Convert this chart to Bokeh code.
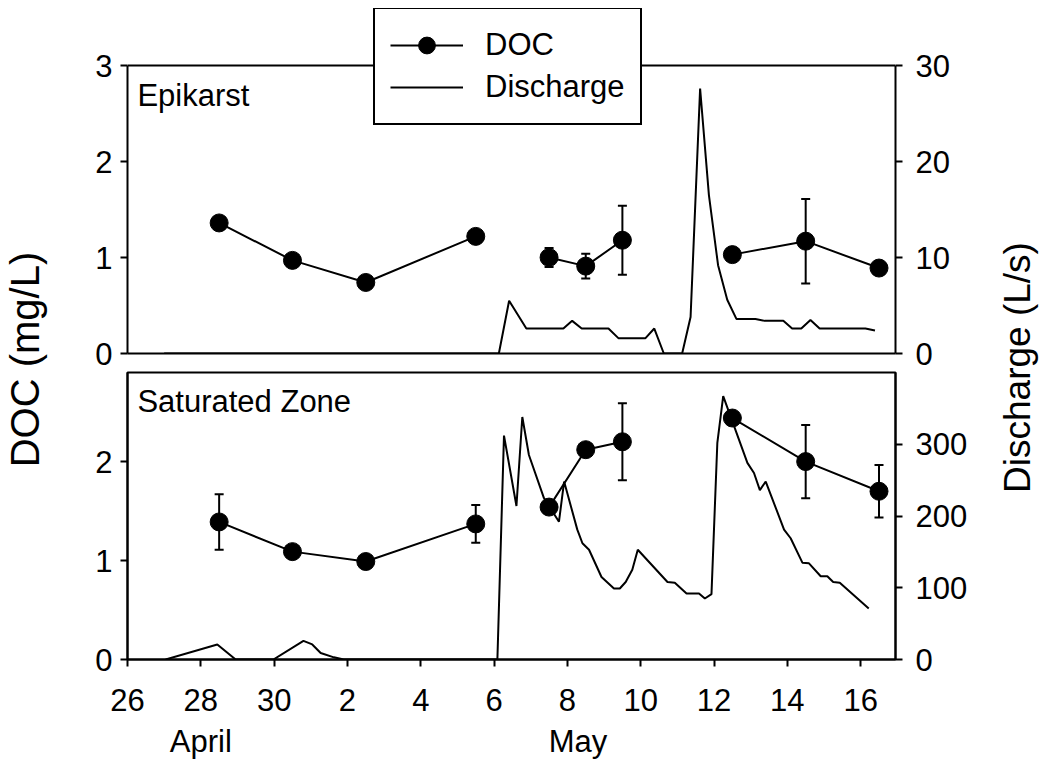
from math import pi
import numpy as np
from bokeh.plotting import figure
from bokeh.models import (Range1d, LinearAxis, FixedTicker, Legend, LegendItem, Label,
                          Whisker, TeeHead, ColumnDataSource, Span)
from bokeh.layouts import row, column
from bokeh.embed import file_html
from bokeh.resources import INLINE

FONT = "Liberation Sans"

# day numbers: April 26 = 26 ... April 30 = 30, May 1 = 31, May 2 = 32 ...
doc_days = [28.5, 30.5, 32.5, 35.5, 37.5, 38.5, 39.5, 42.5, 44.5, 46.5]
doc_group = [0, 0, 0, 0, 1, 1, 1, 2, 2, 2]
epi_doc = [1.36, 0.97, 0.74, 1.22, 1.00, 0.91, 1.18, 1.03, 1.17, 0.89]
epi_err = [0, 0, 0, 0, 0.10, 0.13, 0.36, 0, 0.44, 0]
sat_doc = [1.39, 1.09, 0.99, 1.37, 1.54, 2.12, 2.20, 2.44, 2.00, 1.70]
sat_err = [0.28, 0, 0, 0.19, 0, 0, 0.39, 0, 0.37, 0.265]

epi_q_days = [27.0, 36.13, 36.41, 36.88, 37.89, 38.13, 38.39, 39.12, 39.39, 40.13,
              40.37, 40.63, 41.13, 41.36, 41.62, 41.86, 42.11, 42.36, 42.61, 43.13,
              43.38, 43.89, 44.13, 44.38, 44.63, 44.88, 46.13, 46.39]
epi_q = [0, 0, 5.5, 2.6, 2.6, 3.4, 2.6, 2.6, 1.6, 1.6,
         2.6, 0, 0, 3.8, 27.6, 16.5, 9.2, 5.6, 3.6, 3.6,
         3.4, 3.4, 2.6, 2.6, 3.5, 2.6, 2.6, 2.4]

sat_q_days = [27.04, 28.45, 28.95, 29.98, 30.8, 31.04, 31.27, 31.63, 31.9, 36.09,
              36.27, 36.61, 36.77, 36.95, 37.36, 37.77, 37.91, 38.27, 38.41, 38.59,
              38.93, 39.27, 39.43, 39.59, 39.77, 39.92, 40.73, 40.93, 41.25, 41.59,
              41.75, 41.93, 42.09, 42.25, 42.91, 43.09, 43.25, 43.41, 43.91, 44.09,
              44.41, 44.59, 44.91, 45.09, 45.25, 45.43, 46.22]
sat_q = [0, 21, 0, 0, 26, 21, 9, 3, 0, 0,
         312, 214, 338, 285, 225, 192, 248, 181, 162, 153,
         115, 99, 99, 108, 125, 153, 108, 107, 92, 92,
         85, 91, 302, 367, 274, 260, 236, 248, 181, 169,
         135, 134, 116, 116, 108, 107, 71]

x_ticks = [26, 28, 30, 32, 34, 36, 38, 40, 42, 44, 46]
x_tick_labels = ["26", "28", "30", "2", "4", "6", "8", "10", "12", "14", "16"]
month_ticks = [28.0, 38.29]
month_labels = ["April", "May"]
epi_doc_ticks = [0, 1, 2, 3]
epi_q_ticks = [0, 10, 20, 30]
sat_doc_ticks = [0, 1, 2]
sat_q_ticks = [0, 100, 200, 300]

X0, X1 = 26, 46.95
EPI_DOC_MAX, EPI_Q_MAX = 3, 30
SAT_DOC_MAX, SAT_Q_MAX = 2.9, 400

# layout (pixels)
MAIN_W = 907
BL, BR = 59, 80
TOP_H, TOP_BT, TOP_BB = 371, 8, 18
TOP_BOX = 288           # visible height of the Epikarst panel box
BOT_H, BOT_BT, BOT_BB = 396, 1, 108


def broken(xs, ys, groups):
    ox, oy = [], []
    for i, (x, y, g) in enumerate(zip(xs, ys, groups)):
        if i > 0 and g != groups[i - 1]:
            ox.append(np.nan)
            oy.append(np.nan)
        ox.append(x)
        oy.append(y)
    return ox, oy


def style_axis(ax, standoff):
    ax.axis_line_width = 2
    ax.axis_line_color = "black"
    ax.major_tick_line_width = 2
    ax.major_tick_line_color = "black"
    ax.major_tick_out = 7
    ax.major_tick_in = 0
    ax.minor_tick_line_color = None
    ax.major_label_text_font = FONT
    ax.major_label_text_font_size = "31px"
    ax.major_label_text_color = "black"
    ax.major_label_standoff = standoff


def draw_data(p, doc, err, qd, q, title, title_y):
    qline = p.line(qd, q, y_range_name="q", line_color="black", line_width=2)
    lx, ly = broken(doc_days, doc, doc_group)
    dline = p.line(lx, ly, line_color="black", line_width=2)
    dots = p.scatter(doc_days, doc, size=18, marker="circle", fill_color="black", line_color="black")
    ex = [d for d, e in zip(doc_days, err) if e > 0]
    lo = [v - e for v, e in zip(doc, err) if e > 0]
    hi = [v + e for v, e in zip(doc, err) if e > 0]
    src = ColumnDataSource(dict(x=ex, lower=lo, upper=hi))
    w = Whisker(source=src, base="x", lower="lower", upper="upper", dimension="height",
                line_width=2, line_color="black",
                upper_head=TeeHead(size=9, line_width=2, line_color="black"),
                lower_head=TeeHead(size=9, line_width=2, line_color="black"))
    p.add_layout(w)
    p.add_layout(Label(x=26.27, y=title_y, text=title, text_font=FONT, text_font_size="31px",
                       text_align="left", text_baseline="alphabetic", text_color="black"))
    return dline, dots, qline


# ---------------- Epikarst (top) ----------------
top_frame_h = TOP_H - TOP_BT - TOP_BB
scale = top_frame_h / TOP_BOX
top = figure(width=MAIN_W, height=TOP_H, x_range=Range1d(X0, X1),
             y_range=Range1d(0, EPI_DOC_MAX * scale),
             min_border_left=BL, min_border_right=BR, min_border_top=TOP_BT, min_border_bottom=TOP_BB,
             toolbar_location=None, output_backend="svg", x_axis_location="below", y_axis_location="left")
top.grid.visible = False
top.outline_line_color = None
top.extra_y_ranges = {"q": Range1d(0, EPI_Q_MAX * scale)}
axr = LinearAxis(y_range_name="q", ticker=FixedTicker(ticks=epi_q_ticks), bounds=(0, EPI_Q_MAX))
top.add_layout(axr, "right")
top.yaxis[0].ticker = FixedTicker(ticks=epi_doc_ticks)
top.yaxis[0].bounds = (0, EPI_DOC_MAX)
style_axis(top.yaxis[0], 8)
style_axis(axr, 13)
xa = top.xaxis[0]
style_axis(xa, 0)
xa.ticker = FixedTicker(ticks=[])
xa.major_tick_out = 0
top.add_layout(Span(location=EPI_DOC_MAX, dimension="width", line_color="black", line_width=2))
dl, dd, ql = draw_data(top, epi_doc, epi_err, epi_q_days, epi_q, "Epikarst", 2.684)

legend = Legend(items=[LegendItem(label="DOC", renderers=[dl, dd]),
                       LegendItem(label="Discharge", renderers=[ql])],
                location=(246, 228), margin=0, padding=15, spacing=0,
                glyph_width=73, glyph_height=42, label_height=42, label_standoff=22,
                label_text_font=FONT, label_text_font_size="31px", label_text_color="black",
                border_line_color="black", border_line_width=2, border_line_alpha=1.0,
                background_fill_color="white", background_fill_alpha=1.0)
top.add_layout(legend)

# ---------------- Saturated Zone (bottom) ----------------
bot = figure(width=MAIN_W, height=BOT_H, x_range=Range1d(X0, X1), y_range=Range1d(0, SAT_DOC_MAX),
             min_border_left=BL, min_border_right=BR, min_border_top=BOT_BT, min_border_bottom=BOT_BB,
             toolbar_location=None, output_backend="svg", x_axis_location="below", y_axis_location="left")
bot.grid.visible = False
bot.outline_line_color = "black"
bot.outline_line_width = 2
bot.extra_y_ranges = {"q": Range1d(0, SAT_Q_MAX)}
axr2 = LinearAxis(y_range_name="q", ticker=FixedTicker(ticks=sat_q_ticks))
bot.add_layout(axr2, "right")
bot.yaxis[0].ticker = FixedTicker(ticks=sat_doc_ticks)
style_axis(bot.yaxis[0], 8)
style_axis(axr2, 13)
xb = bot.xaxis[0]
xb.ticker = FixedTicker(ticks=x_ticks)
xb.major_label_overrides = {t: l for t, l in zip(x_ticks, x_tick_labels)}
style_axis(xb, 22)
mon = LinearAxis(ticker=FixedTicker(ticks=month_ticks),
                 major_label_overrides={t: l for t, l in zip(month_ticks, month_labels)})
style_axis(mon, 10)
mon.axis_line_color = None
mon.major_tick_line_color = None
mon.major_tick_out = 0
bot.add_layout(mon, "below")
draw_data(bot, sat_doc, sat_err, sat_q_days, sat_q, "Saturated Zone", 2.606)


# ---------------- shared axis titles ----------------
def side_label(width, x, y, text, size):
    f = figure(width=width, height=TOP_H + BOT_H, x_range=Range1d(0, width),
               y_range=Range1d(0, TOP_H + BOT_H),
               min_border=0, toolbar_location=None, output_backend="svg",
               x_axis_location=None, y_axis_location=None)
    f.grid.visible = False
    f.outline_line_color = None
    f.add_layout(Label(x=x, y=y, text=text, angle=pi / 2, text_font=FONT, text_font_size=size,
                       text_align="center", text_baseline="middle", text_color="black"))
    return f


left = side_label(68, 24.5, 408, "DOC (mg/L)", "40px")
right = side_label(72, 42, 400, "Discharge (L/s)", "37px")

layout = row(left, column(top, bot), right)
open("out.html", "w").write(file_html(layout, INLINE))
